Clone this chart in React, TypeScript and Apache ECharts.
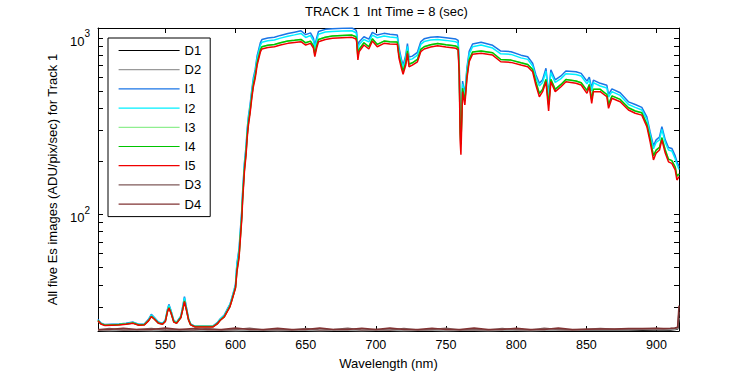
import React, { useEffect, useRef } from 'react';
import * as echarts from 'echarts';

const FONT = '"Liberation Sans", Arial, Helvetica, sans-serif';

// Wavelength grid (nm) for illuminated series
const wl = [
  502, 504, 507, 512, 517, 522, 527, 531, 535, 538,
  540, 542, 545, 548, 550, 551.5, 552.5, 554, 556, 558,
  561, 562.5, 563.6, 565, 566.5, 568, 571, 578, 584, 587,
  589, 592, 594, 596, 597.5, 599, 600, 601, 602.5, 603.5,
  604.5, 605, 606.3, 607.5, 608.3, 609.2, 610.4, 611.6, 612.7, 614,
  615.4, 616.6, 617.8, 618.8, 623, 627.7, 632, 637.3, 642, 646.6,
  650, 653.4, 655.5, 656.5, 657.8, 659.1, 664, 669, 676, 683,
  685.8, 686.3, 687.2, 688, 691.5, 695, 697.5, 701, 705.8, 710,
  715.3, 716.5, 718.2, 719.4, 721.3, 722.5, 723.6, 726, 729.6, 732,
  734.4, 739, 744, 750, 757, 758.6, 759.4, 760.1, 760.6, 761.8,
  763.4, 764.9, 766.5, 768.9, 775, 783.2, 789, 796.3, 803.4, 808.2,
  811.7, 814, 816.5, 818.8, 821.2, 823.1, 824.7, 827.8, 831.9, 835.4,
  842.6, 846.3, 850.4, 852.1, 853.8, 855, 859.9, 864.6, 865.8, 868.2,
  874.1, 880, 884.8, 889.5, 893.1, 895.4, 897.8, 899.7, 902.1, 903.8,
  906.2, 908.5, 910.9, 913.3, 914.5, 916,
];

const i1 = [
  25.5, 24.3, 23.8, 23.9, 24.0, 24.2, 24.6, 23.9, 24.0, 25.5,
  27.2, 26.2, 24.6, 24.2, 25.3, 29.0, 31.0, 28.6, 25.1, 24.6,
  26.6, 30.5, 34.3, 29.8, 25.8, 24.0, 23.3, 23.3, 23.4, 24.4,
  25.6, 27.0, 29.0, 31.0, 34.0, 37.5, 40.5, 53, 64, 83,
  107, 132, 195, 244, 305, 361, 421, 511, 594, 662,
  794, 868, 946, 980, 1000, 1010, 1035, 1060, 1080, 1100,
  1045, 1070, 1000, 905, 1000, 1090, 1120, 1130, 1135, 1140,
  1110, 1080, 870, 950, 1017, 985, 1077, 1040, 1063, 1050,
  1040, 880, 760, 700, 800, 930, 780, 790, 830, 953,
  990, 1010, 1017, 1005, 987, 970, 720, 330, 295, 570,
  480, 680, 840, 925, 946, 910, 844, 837, 800, 784,
  720, 620, 554, 580, 674, 480, 660, 580, 610, 650,
  645, 631, 570, 600, 520, 578, 554, 540, 480, 515,
  490, 435, 420, 405, 358, 295, 245, 265, 275, 315,
  265, 240, 237, 215, 200, 187,
];

const i2 = [
  25.3, 24.2, 23.7, 23.8, 23.9, 24.1, 24.5, 23.8, 23.9, 25.3,
  27.0, 26.0, 24.5, 24.1, 25.2, 28.8, 30.6, 28.4, 25.0, 24.5,
  26.4, 30.2, 33.8, 29.6, 25.7, 23.9, 23.2, 23.2, 23.3, 24.3,
  25.5, 26.8, 28.8, 30.8, 33.7, 37.1, 40.0, 52, 62, 80,
  104, 128, 189, 236, 295, 350, 407, 494, 573, 639,
  766, 838, 913, 946, 965, 975, 999, 1023, 1042, 1062,
  1008, 1033, 965, 873, 965, 1052, 1081, 1090, 1095, 1100,
  1071, 1042, 840, 917, 981, 951, 1039, 1004, 1026, 1013,
  1004, 849, 733, 676, 772, 897, 753, 762, 801, 920,
  955, 975, 981, 970, 952, 936, 695, 318, 285, 550,
  463, 656, 811, 893, 913, 878, 814, 808, 772, 757,
  695, 598, 535, 560, 650, 463, 637, 560, 589, 627,
  622, 609, 550, 579, 502, 558, 535, 521, 463, 497,
  473, 420, 405, 391, 345, 285, 236, 256, 265, 304,
  256, 232, 229, 207, 193, 180,
];

const i4 = [
  25.1, 24.1, 23.6, 23.7, 23.8, 24.0, 24.3, 23.7, 23.8, 25.1,
  26.5, 25.7, 24.3, 24.0, 24.9, 28.3, 29.7, 27.9, 24.7, 24.3,
  26.1, 29.4, 32.4, 29.0, 25.4, 23.8, 23.2, 23.2, 23.2, 24.1,
  25.2, 26.4, 28.3, 30.2, 33.0, 36.3, 38.8, 48.5, 58.5, 76,
  99, 122, 180, 226, 281, 333, 389, 471, 547, 610,
  725, 792, 862, 893, 910, 920, 940, 961, 971, 982,
  940, 961, 904, 810, 904, 982, 1010, 1026, 1033, 1039,
  1017, 982, 780, 862, 940, 893, 991, 920, 961, 953,
  949, 795, 700, 650, 724, 845, 710, 724, 756, 862,
  893, 916, 932, 916, 901, 882, 650, 290, 250, 520,
  440, 610, 756, 833, 845, 825, 756, 750, 724, 709,
  663, 565, 485, 512, 583, 420, 583, 512, 546, 583,
  571, 558, 505, 546, 450, 512, 512, 479, 420, 470,
  449, 403, 386, 377, 325, 270, 215, 232, 240, 273,
  232, 206, 202, 186, 165, 170,
];

// I3 is indistinguishable from I4 in the picture (hidden underneath)
const i3 = [
  25.1, 24.1, 23.6, 23.7, 23.8, 24.0, 24.3, 23.7, 23.8, 25.1,
  26.5, 25.7, 24.3, 24.0, 24.9, 28.3, 29.7, 27.9, 24.7, 24.3,
  26.1, 29.4, 32.4, 29.0, 25.4, 23.8, 23.2, 23.2, 23.2, 24.1,
  25.2, 26.4, 28.3, 30.2, 33.0, 36.3, 38.8, 48.5, 58.5, 76,
  99, 122, 180, 226, 281, 333, 389, 471, 547, 610,
  725, 792, 862, 893, 910, 920, 940, 961, 971, 982,
  940, 961, 904, 810, 904, 982, 1010, 1026, 1033, 1039,
  1017, 982, 780, 862, 940, 893, 991, 920, 961, 953,
  949, 795, 700, 650, 724, 845, 710, 724, 756, 862,
  893, 916, 932, 916, 901, 882, 650, 290, 250, 520,
  440, 610, 756, 833, 845, 825, 756, 750, 724, 709,
  663, 565, 485, 512, 583, 420, 583, 512, 546, 583,
  571, 558, 505, 546, 450, 512, 512, 479, 420, 470,
  449, 403, 386, 377, 325, 270, 215, 232, 240, 273,
  232, 206, 202, 186, 165, 170,
];

const i5 = [
  25.0, 24.0, 23.5, 23.6, 23.7, 23.9, 24.2, 23.6, 23.7, 25.0,
  26.4, 25.6, 24.2, 23.9, 24.8, 28.1, 29.5, 27.7, 24.6, 24.2,
  26.0, 29.2, 32.1, 28.8, 25.3, 23.7, 23.1, 23.1, 23.1, 24.0,
  25.1, 26.3, 28.1, 30.0, 32.8, 36.0, 38.4, 47.3, 56.8, 73.7,
  95.7, 117.8, 174, 218, 272, 322, 376, 456, 530, 591,
  703, 768, 837, 867, 883, 893, 913, 933, 943, 953,
  913, 933, 878, 784, 878, 953, 981, 996, 1003, 1009,
  987, 953, 751, 837, 913, 867, 962, 893, 933, 925,
  921, 768, 674, 623, 703, 820, 688, 703, 734, 837,
  867, 889, 905, 889, 875, 856, 617, 259, 218, 497,
  418, 591, 734, 809, 820, 801, 734, 728, 703, 688,
  644, 542, 465, 497, 566, 386, 566, 497, 530, 566,
  554, 542, 486, 530, 427, 497, 497, 465, 400, 456,
  436, 391, 375, 366, 315, 259, 204, 223, 232, 265,
  223, 199, 195, 179, 157, 164,
];

// Dark series
const darkWl = [
  502, 510, 520, 530, 540, 550, 560, 570, 580, 590,
  600, 610, 620, 630, 640, 650, 660, 670, 680, 690,
  700, 710, 720, 730, 740, 750, 760, 770, 780, 790,
  800, 810, 820, 830, 840, 850, 860, 870, 880, 890,
  900, 905, 910, 913, 915, 916,
];
const d1 = [
  22.0, 22.0, 22.0, 22.0, 22.0, 22.0, 22.0, 22.0, 22.0, 22.0,
  22.0, 22.0, 22.0, 22.0, 22.0, 22.0, 22.0, 22.0, 22.0, 22.0,
  22.0, 22.0, 22.0, 22.0, 22.0, 22.0, 22.0, 22.0, 22.0, 22.0,
  22.0, 22.0, 22.0, 22.0, 22.0, 22.0, 22.1, 22.1, 22.1, 22.1,
  22.2, 22.2, 22.2, 22.3, 22.5, 24.0,
];
const d2 = [
  22.1, 22.0, 22.1, 22.1, 22.0, 22.1, 22.1, 22.0, 22.1, 22.1,
  22.0, 22.1, 22.1, 22.0, 22.1, 22.1, 22.0, 22.1, 22.1, 22.0,
  22.1, 22.1, 22.0, 22.1, 22.1, 22.0, 22.1, 22.1, 22.0, 22.1,
  22.1, 22.0, 22.1, 22.1, 22.1, 22.2, 22.2, 22.2, 22.2, 22.3,
  22.3, 22.3, 22.4, 22.4, 22.6, 26.0,
];
const d3 = [
  22.2, 22.6, 22.2, 22.3, 22.6, 22.2, 22.3, 22.2, 22.6, 22.2,
  22.3, 22.7, 22.2, 22.3, 22.2, 22.6, 22.2, 22.3, 22.7, 22.2,
  22.3, 22.2, 22.6, 22.2, 22.3, 22.7, 22.2, 22.3, 22.2, 22.6,
  22.3, 22.2, 22.7, 22.3, 22.2, 22.4, 22.6, 22.4, 22.5, 22.5,
  22.6, 22.5, 22.6, 22.7, 22.9, 28.0,
];
const d4 = [
  22.3, 22.3, 22.7, 22.3, 22.3, 22.8, 22.3, 22.6, 22.3, 22.3,
  22.8, 22.3, 22.3, 22.7, 22.3, 22.3, 22.8, 22.3, 22.3, 22.7,
  22.3, 22.8, 22.3, 22.3, 22.7, 22.3, 22.3, 22.8, 22.3, 22.3,
  22.7, 22.3, 22.3, 22.8, 22.3, 22.4, 22.5, 22.5, 22.6, 22.6,
  22.7, 22.6, 22.7, 22.8, 23.0, 30.5,
];

const xTicks = [550, 600, 650, 700, 750, 800, 850, 900];
const yLabels = [100, 1000];
const yTicks = [30, 40, 50, 60, 70, 80, 90, 100, 200, 300, 400, 500, 600, 700, 800, 900, 1000];

const seriesDefs = [
  { name: 'D1', color: '#000000', x: darkWl, y: d1 },
  { name: 'D2', color: '#999999', x: darkWl, y: d2 },
  { name: 'I1', color: '#1a75e6', x: wl, y: i1 },
  { name: 'I2', color: '#00f0ff', x: wl, y: i2 },
  { name: 'I3', color: '#90ee90', x: wl, y: i3 },
  { name: 'I4', color: '#00c400', x: wl, y: i4 },
  { name: 'I5', color: '#f00000', x: wl, y: i5 },
  { name: 'D3', color: '#7f5a5a', x: darkWl, y: d3 },
  { name: 'D4', color: '#803333', x: darkWl, y: d4 },
];

export default function App() {
  const ref = useRef<HTMLDivElement>(null);
  useEffect(() => {
    const chart = echarts.init(ref.current as HTMLDivElement, null, { renderer: 'svg' });
    const axisLine = { show: true, onZero: false, lineStyle: { color: '#000', width: 1 } };
    const tickStyle = { color: '#000', width: 1 };
    chart.setOption({
      animation: false,
      backgroundColor: '#ffffff',
      title: {
        text: 'TRACK 1  Int Time = 8 (sec)',
        left: 305,
        top: 5,
        padding: 0,
        textStyle: { fontSize: 13, fontWeight: 'normal', color: '#000', fontFamily: FONT },
      },
      grid: { left: 98, right: 71, top: 28, bottom: 44, containLabel: false },
      legend: {
        orient: 'vertical',
        left: 108,
        top: 38,
        padding: [6, 9, 6, 10],
        itemWidth: 61,
        itemHeight: 13,
        itemGap: 6.2,
        borderColor: '#000',
        borderWidth: 1,
        backgroundColor: '#fff',
        textStyle: { fontSize: 13, color: '#000', fontFamily: FONT },
        itemStyle: { opacity: 0, borderWidth: 0 },
        lineStyle: { width: 1.2 },
        data: seriesDefs.map((s) => s.name),
      },
      xAxis: [
        {
          type: 'value',
          min: 502,
          max: 916,
          position: 'bottom',
          name: 'Wavelength (nm)',
          nameLocation: 'middle',
          nameGap: 26,
          nameTextStyle: { fontSize: 13, color: '#000', fontFamily: FONT },
          axisLine,
          axisTick: { show: true, inside: true, length: 5, customValues: xTicks, lineStyle: tickStyle },
          axisLabel: { customValues: xTicks, fontSize: 12.5, color: '#000', margin: 7, fontFamily: FONT },
          splitLine: { show: false },
        },
        {
          type: 'value',
          min: 502,
          max: 916,
          position: 'top',
          axisLine,
          axisTick: { show: true, inside: true, length: 5, customValues: xTicks, lineStyle: tickStyle },
          axisLabel: { show: false },
          splitLine: { show: false },
        },
      ],
      yAxis: [
        {
          type: 'log',
          logBase: 10,
          min: 21.9,
          max: 1140,
          position: 'left',
          name: 'All five Es images (ADU/pix/sec) for Track 1',
          nameLocation: 'middle',
          nameGap: 36,
          nameTextStyle: { fontSize: 13, color: '#000', fontFamily: FONT },
          axisLine,
          axisTick: { show: true, inside: true, length: 5, customValues: yTicks, lineStyle: tickStyle },
          axisLabel: {
            customValues: yLabels,
            margin: 8,
            formatter: (v: number) => `{b|10}{s|${Math.round(Math.log10(v))}}`,
            rich: {
              b: { fontSize: 13, color: '#000', fontFamily: FONT, verticalAlign: 'bottom' },
              s: { fontSize: 10, color: '#000', fontFamily: FONT, verticalAlign: 'bottom', padding: [0, 0, 9, 0] },
            },
          },
          splitLine: { show: false },
        },
        {
          type: 'log',
          logBase: 10,
          min: 21.9,
          max: 1140,
          position: 'right',
          axisLine,
          axisTick: { show: true, inside: true, length: 5, customValues: yTicks, lineStyle: tickStyle },
          axisLabel: { show: false },
          splitLine: { show: false },
        },
      ],
      series: seriesDefs.map((s) => ({
        name: s.name,
        type: 'line',
        xAxisIndex: 0,
        yAxisIndex: 0,
        symbol: 'none',
        showSymbol: false,
        clip: true,
        lineStyle: { color: s.color, width: 1.5 },
        itemStyle: { color: s.color },
        data: s.x.map((x, i) => [x, s.y[i]]),
      })),
    });
    return () => chart.dispose();
  }, []);
  return (
    <div
      ref={ref}
      style={{ position: 'fixed', left: 0, top: 0, width: 750, height: 375, background: '#fff' }}
    />
  );
}
